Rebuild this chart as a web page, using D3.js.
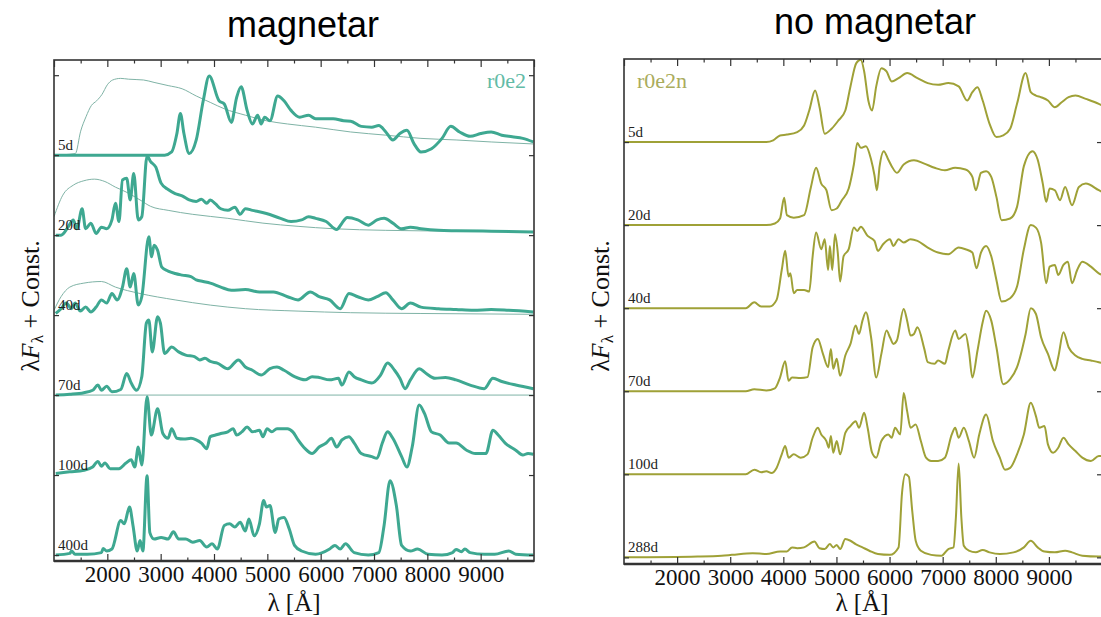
<!DOCTYPE html>
<html>
<head>
<meta charset="utf-8">
<script src="https://cdn.jsdelivr.net/npm/d3@7"></script>
<style>
  body { margin: 0; background: #fff; }
  svg { display: block; }
</style>
</head>
<body>
<div id="chart"></div>
<script>
// spectra: [wavelength (A), normalised flux]
// each epoch is stacked one unit above the next one

const waveTicks = [2000, 3000, 4000, 5000, 6000, 7000, 8000, 9000];
const magEpochs = ["5d", "20d", "40d", "70d", "100d", "400d"];
const noMagEpochs = ["5d", "20d", "40d", "70d", "100d", "288d"];

// --- magnetar (r0e2) ---
const mag5d = [[1000,0],[3074,0],[3206,0.04],[3304,0.27],[3370,0.52],[3436,0.27],[3535,0.02],[3667,0.19],[3798,0.68],[3910,0.99],[4094,0.68],[4193,0.64],[4325,0.41],[4424,0.72],[4509,0.855],[4621,0.56],[4720,0.39],[4819,0.5],[4884,0.39],[4950,0.475],[5049,0.43],[5194,0.74],[5313,0.68],[5444,0.56],[5609,0.475],[5773,0.5],[5905,0.455],[6037,0.455],[6234,0.455],[6432,0.43],[6563,0.425],[6761,0.36],[6958,0.35],[7090,0.37],[7222,0.29],[7353,0.19],[7485,0.27],[7617,0.31],[7749,0.145],[7880,0.04],[8078,0.08],[8275,0.21],[8440,0.36],[8605,0.29],[8802,0.235],[9000,0.27],[9197,0.29],[9395,0.25],[9592,0.23],[9790,0.21],[9987,0.165]];
const mag20d = [[1033,0],[1132,0],[1263,0.1],[1362,0.19],[1428,0.08],[1527,0.33],[1593,0.08],[1691,0.15],[1790,0.02],[1889,0.1],[1988,0.08],[2086,0.19],[2152,0.4],[2218,0.17],[2284,0.69],[2363,0.71],[2429,0.44],[2495,0.77],[2580,0.19],[2646,0.23],[2745,0.99],[2811,0.92],[2909,0.85],[3008,0.65],[3140,0.57],[3271,0.52],[3403,0.49],[3535,0.44],[3667,0.42],[3765,0.45],[3864,0.4],[3930,0.44],[4029,0.39],[4127,0.33],[4259,0.31],[4391,0.35],[4490,0.26],[4588,0.33],[4720,0.31],[4983,0.27],[5247,0.21],[5444,0.17],[5642,0.19],[5773,0.23],[5905,0.21],[6103,0.17],[6300,0.07],[6399,0.15],[6498,0.22],[6695,0.19],[6893,0.125],[7057,0.19],[7189,0.21],[7353,0.15],[7518,0.08],[7683,0.1],[7880,0.08],[8210,0.06],[8539,0.055],[9197,0.05],[9987,0.04]];
const mag40d = [[1033,0.02],[1132,0.08],[1230,0.15],[1329,0.08],[1395,0.15],[1494,0.05],[1593,0.1],[1691,0.04],[1790,0.1],[1889,0.19],[1988,0.15],[2086,0.27],[2185,0.19],[2284,0.35],[2363,0.58],[2429,0.35],[2495,0.52],[2580,0.125],[2646,0.23],[2778,0.98],[2830,0.73],[2876,0.875],[2942,0.81],[3021,0.6],[3140,0.55],[3271,0.52],[3403,0.5],[3568,0.48],[3667,0.44],[3798,0.42],[3930,0.4],[4127,0.35],[4325,0.31],[4588,0.32],[4852,0.29],[5115,0.29],[5378,0.23],[5576,0.19],[5806,0.29],[5971,0.23],[6168,0.19],[6366,0.08],[6530,0.27],[6695,0.23],[6893,0.19],[7057,0.23],[7222,0.28],[7353,0.19],[7518,0.08],[7683,0.15],[7880,0.1],[8210,0.08],[8539,0.07],[8868,0.06],[9197,0.07],[9526,0.06],[9987,0.04]];
const mag70d = [[1033,0],[1296,0.01],[1560,0.03],[1724,0.06],[1823,0.125],[1889,0.06],[1988,0.11],[2086,0.04],[2251,0.07],[2363,0.27],[2448,0.15],[2547,0.06],[2646,0.23],[2732,0.9],[2778,0.94],[2843,0.54],[2942,0.98],[2995,0.9],[3074,0.52],[3206,0.6],[3337,0.54],[3469,0.5],[3634,0.48],[3732,0.44],[3831,0.46],[3930,0.42],[4062,0.4],[4259,0.33],[4457,0.44],[4588,0.35],[4720,0.31],[4884,0.25],[5049,0.33],[5181,0.35],[5313,0.31],[5510,0.23],[5708,0.19],[5839,0.23],[5971,0.22],[6168,0.19],[6333,0.21],[6399,0.125],[6530,0.29],[6629,0.23],[6761,0.19],[6958,0.15],[7123,0.25],[7255,0.4],[7386,0.31],[7485,0.21],[7584,0.08],[7683,0.19],[7847,0.33],[7979,0.27],[8144,0.21],[8341,0.22],[8539,0.19],[8802,0.125],[9066,0.08],[9230,0.21],[9395,0.17],[9658,0.125],[9987,0.08]];
const mag100d = [[1033,0.02],[1296,0.04],[1560,0.06],[1724,0.1],[1823,0.17],[1889,0.11],[1955,0.15],[2053,0.08],[2218,0.08],[2350,0.15],[2448,0.19],[2514,0.1],[2580,0.35],[2646,0.125],[2745,0.98],[2824,0.5],[2942,0.83],[3041,0.52],[3140,0.46],[3206,0.58],[3304,0.46],[3436,0.45],[3568,0.46],[3667,0.44],[3765,0.4],[3864,0.33],[3930,0.48],[4029,0.5],[4127,0.52],[4259,0.54],[4358,0.58],[4424,0.5],[4522,0.54],[4621,0.6],[4720,0.54],[4852,0.56],[4917,0.48],[4996,0.58],[5082,0.54],[5181,0.58],[5280,0.58],[5378,0.58],[5477,0.54],[5576,0.44],[5708,0.33],[5839,0.27],[5971,0.35],[6103,0.4],[6201,0.46],[6300,0.35],[6399,0.44],[6530,0.48],[6629,0.4],[6761,0.27],[6958,0.23],[7057,0.21],[7156,0.4],[7255,0.54],[7353,0.46],[7518,0.23],[7617,0.1],[7716,0.35],[7847,0.875],[7946,0.77],[8078,0.54],[8242,0.5],[8407,0.4],[8539,0.4],[8736,0.31],[8901,0.27],[9099,0.27],[9230,0.56],[9329,0.5],[9460,0.4],[9658,0.31],[9790,0.25],[9888,0.27],[9987,0.26]];
const mag400d = [[1033,0],[1296,0.02],[1329,0.05],[1395,0.01],[1625,0.01],[1889,0.03],[1922,0.08],[1988,0.05],[2086,0.075],[2251,0.43],[2317,0.39],[2416,0.6],[2481,0.37],[2561,0.05],[2613,0.18],[2666,0.05],[2745,0.99],[2797,0.28],[2876,0.2],[3008,0.22],[3140,0.2],[3239,0.29],[3337,0.2],[3469,0.2],[3601,0.16],[3732,0.18],[3864,0.1],[3963,0.14],[4062,0.075],[4193,0.37],[4292,0.39],[4391,0.35],[4490,0.41],[4588,0.3],[4654,0.45],[4753,0.24],[4852,0.39],[4931,0.68],[4983,0.6],[5049,0.62],[5148,0.28],[5214,0.45],[5313,0.47],[5411,0.325],[5510,0.12],[5642,0.05],[5905,0.01],[6168,0.075],[6267,0.12],[6366,0.075],[6465,0.14],[6629,0.03],[6893,0],[7090,0.03],[7189,0.37],[7301,0.93],[7419,0.62],[7518,0.12],[7683,0.05],[7814,0.075],[8012,0.01],[8275,0],[8473,0.03],[8539,0.07],[8638,0.04],[8703,0.075],[8802,0.03],[9066,0.01],[9263,0.01],[9526,0.05],[9658,0.01],[9987,0]];

// thin comparison curves in the magnetar panel
const magRef5d = [[1000,0],[1400,0.02],[1500,0.3],[1600,0.48],[1700,0.62],[1800,0.68],[1900,0.76],[2000,0.88],[2100,0.94],[2250,0.96],[2400,0.95],[2679,0.94],[2876,0.91],[3140,0.87],[3403,0.83],[3667,0.74],[3930,0.66],[4193,0.58],[4588,0.5],[4983,0.43],[5378,0.39],[5905,0.35],[6563,0.29],[7222,0.25],[7880,0.21],[8539,0.19],[9197,0.165],[9987,0.14]];
const magRef20d = [[1000,0.23],[1165,0.5],[1362,0.625],[1560,0.68],[1757,0.7],[1955,0.67],[2152,0.6],[2350,0.54],[2613,0.44],[2811,0.36],[3140,0.31],[3601,0.26],[4259,0.21],[4917,0.15],[5576,0.11],[6234,0.08],[7222,0.06],[8539,0.05],[9987,0.04]];
const magRef40d = [[1000,0.06],[1132,0.23],[1296,0.35],[1560,0.4],[1889,0.42],[2152,0.35],[2613,0.27],[3271,0.19],[3930,0.125],[4588,0.08],[5576,0.05],[6563,0.03],[7880,0.02],[9987,0.01]];
const magRef70d = [[1000,0],[9987,0]];

// --- no magnetar (r0e2n) ---
const nomag5d = [[1000,0],[3680,0],[3809,0.02],[3938,0.08],[4067,0.09],[4261,0.12],[4391,0.2],[4488,0.38],[4598,0.62],[4682,0.42],[4779,0.1],[4908,0.16],[5037,0.26],[5167,0.38],[5264,0.67],[5374,0.95],[5458,0.99],[5522,0.85],[5600,0.5],[5671,0.38],[5749,0.67],[5846,0.89],[5943,0.85],[6040,0.73],[6169,0.77],[6331,0.83],[6525,0.77],[6719,0.71],[6913,0.69],[7107,0.71],[7301,0.67],[7462,0.5],[7559,0.6],[7656,0.66],[7753,0.5],[7883,0.22],[8012,0.06],[8141,0.08],[8271,0.16],[8400,0.46],[8562,0.83],[8659,0.6],[8756,0.56],[8853,0.54],[8982,0.5],[9112,0.42],[9241,0.48],[9371,0.54],[9500,0.56],[9694,0.52],[9940,0.46],[10000,0.44]];
const nomag20d = [[1000,0],[3680,0],[3841,0.02],[3938,0.08],[4016,0.33],[4067,0.12],[4196,0.09],[4391,0.12],[4520,0.46],[4617,0.69],[4714,0.5],[4811,0.42],[4908,0.18],[5005,0.2],[5102,0.3],[5231,0.44],[5328,0.73],[5393,0.99],[5458,0.93],[5555,0.95],[5652,0.79],[5716,0.6],[5762,0.42],[5813,0.71],[5891,0.89],[5975,0.79],[6040,0.71],[6137,0.63],[6266,0.73],[6460,0.78],[6654,0.74],[6848,0.69],[7042,0.66],[7236,0.69],[7430,0.67],[7559,0.58],[7624,0.42],[7721,0.63],[7818,0.65],[7915,0.58],[8012,0.34],[8109,0.06],[8271,0.08],[8400,0.22],[8529,0.71],[8691,0.89],[8788,0.79],[8885,0.5],[8950,0.28],[9015,0.44],[9112,0.42],[9209,0.3],[9306,0.46],[9435,0.24],[9565,0.46],[9694,0.5],[9940,0.42],[10000,0.4]];
const nomag40d = [[1000,0],[3292,0],[3453,0.07],[3582,0.02],[3744,0.02],[3873,0.1],[3970,0.46],[4035,0.69],[4099,0.38],[4132,0.42],[4196,0.18],[4261,0.22],[4391,0.22],[4488,0.2],[4552,0.625],[4617,0.91],[4714,0.71],[4779,0.83],[4843,0.46],[4876,0.75],[4921,0.46],[4973,0.89],[5025,0.67],[5070,0.32],[5134,0.625],[5231,0.71],[5328,0.97],[5393,0.93],[5458,0.98],[5587,0.87],[5716,0.81],[5781,0.69],[5878,0.77],[6007,0.83],[6072,0.75],[6169,0.83],[6266,0.79],[6395,0.83],[6525,0.81],[6719,0.73],[6913,0.67],[7107,0.65],[7301,0.73],[7430,0.71],[7559,0.67],[7637,0.48],[7721,0.67],[7818,0.75],[7915,0.625],[8012,0.34],[8109,0.08],[8271,0.12],[8400,0.26],[8529,0.71],[8659,1],[8756,0.97],[8853,0.79],[8950,0.3],[9015,0.5],[9112,0.52],[9176,0.4],[9274,0.52],[9358,0.56],[9435,0.3],[9532,0.46],[9629,0.56],[9791,0.5],[9940,0.42],[10000,0.4]];
const nomag70d = [[1000,0],[3292,0],[3453,0.025],[3680,0.01],[3841,0.035],[3938,0.165],[4035,0.36],[4099,0.125],[4164,0.165],[4326,0.16],[4455,0.17],[4552,0.53],[4649,0.63],[4746,0.45],[4843,0.29],[4895,0.51],[4940,0.27],[5005,0.39],[5070,0.185],[5167,0.43],[5264,0.57],[5361,0.79],[5425,0.69],[5490,0.85],[5555,0.95],[5652,0.65],[5749,0.165],[5846,0.45],[5943,0.73],[6007,0.65],[6072,0.57],[6137,0.61],[6266,0.99],[6331,0.85],[6395,0.67],[6460,0.69],[6525,0.77],[6654,0.51],[6719,0.35],[6848,0.33],[6913,0.37],[7042,0.33],[7107,0.49],[7236,0.73],[7301,0.63],[7430,0.69],[7494,0.49],[7559,0.165],[7656,0.49],[7753,0.83],[7818,0.97],[7915,0.85],[8012,0.53],[8141,0.085],[8271,0.145],[8400,0.29],[8562,0.69],[8659,1],[8756,0.93],[8853,0.65],[8982,0.45],[9112,0.25],[9176,0.41],[9274,0.71],[9371,0.53],[9500,0.43],[9629,0.39],[9791,0.37],[9940,0.35],[10000,0.34]];
const nomag100d = [[1000,0],[3292,0],[3453,0.056],[3582,0.024],[3680,0.036],[3777,0.016],[3873,0.077],[3970,0.24],[4035,0.34],[4099,0.2],[4196,0.24],[4326,0.2],[4455,0.24],[4552,0.44],[4649,0.56],[4714,0.48],[4811,0.4],[4856,0.32],[4895,0.46],[4940,0.26],[5005,0.4],[5070,0.24],[5167,0.5],[5264,0.58],[5361,0.64],[5425,0.56],[5522,0.74],[5587,0.56],[5671,0.26],[5749,0.2],[5846,0.4],[5975,0.48],[6040,0.44],[6104,0.56],[6201,0.48],[6266,0.98],[6331,0.76],[6395,0.56],[6492,0.6],[6589,0.4],[6686,0.2],[6783,0.16],[6913,0.16],[7042,0.2],[7172,0.48],[7236,0.56],[7301,0.44],[7398,0.56],[7494,0.4],[7592,0.2],[7689,0.48],[7818,0.72],[7947,0.4],[8076,0.2],[8173,0.056],[8271,0.077],[8400,0.24],[8529,0.48],[8659,0.86],[8756,0.7],[8820,0.56],[8917,0.58],[8982,0.36],[9080,0.26],[9176,0.32],[9274,0.44],[9371,0.36],[9500,0.28],[9629,0.2],[9791,0.16],[9940,0.22],[10000,0.22]];
const nomag288d = [[1000,0],[2386,0.01],[2838,0.02],[3032,0.03],[3420,0.05],[3680,0.04],[3938,0.07],[4067,0.07],[4164,0.12],[4261,0.11],[4391,0.12],[4585,0.19],[4682,0.11],[4779,0.1],[4876,0.16],[4940,0.12],[5005,0.15],[5070,0.1],[5167,0.22],[5264,0.2],[5361,0.16],[5490,0.12],[5619,0.08],[5781,0.04],[6007,0.03],[6169,0.12],[6234,0.77],[6298,1],[6363,0.97],[6427,0.56],[6492,0.2],[6589,0.08],[6783,0.03],[6977,0.02],[7107,0.1],[7204,0.12],[7249,0.48],[7301,1.13],[7352,0.48],[7398,0.14],[7494,0.08],[7624,0.06],[7753,0.09],[7883,0.06],[8076,0.04],[8335,0.06],[8529,0.12],[8659,0.2],[8788,0.12],[8917,0.07],[9112,0.06],[9306,0.08],[9435,0.06],[9629,0.02],[9940,0.01],[10000,0.01]];

const magSpectra = [mag5d, mag20d, mag40d, mag70d, mag100d, mag400d];
const magRefs = [magRef5d, magRef20d, magRef40d, magRef70d];
const noMagSpectra = [nomag5d, nomag20d, nomag40d, nomag70d, nomag100d, nomag288d];

const W = 1101, H = 617;
const svg = d3.select("#chart").append("svg")
	.attr("width", W)
	.attr("height", H)
	.style("font-family", "'Liberation Serif', 'Times New Roman', serif");

const panels = [
	{ id: "mag", title: "magnetar", titleX: 303, titleY: 37, model: "r0e2", modelAnchor: "end",
	  xRange: [54, 534], yDomain: [-0.075, 6.19], yRange: [561, 60], yTicks: [0, 1, 2, 3, 4, 5, 6],
	  color: "#3ea891", modelColor: "#62bba6", width: 3, labels: magEpochs, spectra: magSpectra, refs: magRefs, ylabelX: 30 },
	{ id: "nomag", title: "no magnetar", titleX: 875, titleY: 34, model: "r0e2n", modelAnchor: "start",
	  xRange: [624, 1102], yDomain: [-0.08, 6.0], yRange: [564, 59], yTicks: [0, 1, 2, 3, 4, 5],
	  color: "#9fa137", modelColor: "#aaac5c", width: 2, labels: noMagEpochs, spectra: noMagSpectra, refs: [], ylabelX: 600 }
];

const majorTicks = d3.range(1000, 10001, 1000);
const minorTicks = d3.range(1500, 10000, 1000);

panels.forEach(function(p) {
	const x = d3.scaleLinear().domain([1000, 10000]).range(p.xRange);
	const y = d3.scaleLinear().domain(p.yDomain).range(p.yRange);
	const top = p.yRange[1], bottom = p.yRange[0];
	const left = p.xRange[0], right = p.xRange[1];
	const n = p.spectra.length;

	const g = svg.append("g");

	g.append("clipPath").attr("id", "clip-" + p.id)
		.append("rect")
		.attr("x", left).attr("y", top - 10)
		.attr("width", right - left).attr("height", bottom - top + 10);

	const line = function(offset) {
		return d3.line()
			.x(function(d) { return x(d[0]); })
			.y(function(d) { return y(d[1] + offset); })
			.curve(d3.curveMonotoneX);
	};

	const plot = g.append("g").attr("clip-path", "url(#clip-" + p.id + ")");

	// thin comparison curves
	p.refs.forEach(function(ref, i) {
		plot.append("path")
			.datum(ref)
			.attr("fill", "none")
			.attr("stroke", "#7fb3a6")
			.attr("stroke-width", 1)
			.attr("d", line(n - 1 - i));
	});

	p.spectra.forEach(function(s, i) {
		plot.append("path")
			.datum(s)
			.attr("fill", "none")
			.attr("stroke", p.color)
			.attr("stroke-width", p.width)
			.attr("stroke-linejoin", "round")
			.attr("d", line(n - 1 - i));
	});

	// epoch labels
	p.labels.forEach(function(lab, i) {
		g.append("text")
			.attr("x", left + 4)
			.attr("y", y(n - 1 - i) - 5)
			.attr("font-size", 15)
			.attr("fill", "#222")
			.text(lab);
	});

	// frame
	g.append("rect")
		.attr("x", left).attr("y", top)
		.attr("width", right - left).attr("height", bottom - top)
		.attr("fill", "none")
		.attr("stroke", "#333")
		.attr("stroke-width", 1.6);
	g.append("line")
		.attr("x1", left).attr("x2", right)
		.attr("y1", bottom).attr("y2", bottom)
		.attr("stroke", "#333").attr("stroke-width", 2.4);

	// axes, ticks pointing inwards
	const axisStyle = function(sel) {
		sel.select(".domain").remove();
		sel.selectAll(".tick line").attr("stroke", "#333").attr("stroke-width", 1.2);
	};

	g.append("g").attr("transform", "translate(0," + bottom + ")")
		.call(d3.axisBottom(x).tickValues(waveTicks).tickSize(-7).tickPadding(5).tickFormat(d3.format("d")))
		.call(axisStyle)
		.call(function(s) {
			s.selectAll("text").attr("font-size", 23).attr("fill", "#111")
				.style("font-family", "'Liberation Serif', serif");
		});
	g.append("g").attr("transform", "translate(0," + bottom + ")")
		.call(d3.axisBottom(x).tickValues(minorTicks).tickSize(-3.5).tickFormat(""))
		.call(axisStyle);
	g.append("g").attr("transform", "translate(0," + top + ")")
		.call(d3.axisTop(x).tickValues(majorTicks).tickSize(-7).tickFormat(""))
		.call(axisStyle);
	g.append("g").attr("transform", "translate(0," + top + ")")
		.call(d3.axisTop(x).tickValues(minorTicks).tickSize(-3.5).tickFormat(""))
		.call(axisStyle);
	g.append("g").attr("transform", "translate(" + left + ",0)")
		.call(d3.axisLeft(y).tickValues(p.yTicks).tickSize(-5).tickFormat(""))
		.call(axisStyle);
	g.append("g").attr("transform", "translate(" + right + ",0)")
		.call(d3.axisRight(y).tickValues(p.yTicks).tickSize(-5).tickFormat(""))
		.call(axisStyle);

	// axis titles
	const xl = g.append("text")
		.attr("x", (left + Math.min(right, W + 3)) / 2 + (p.id === "nomag" ? -1 : 0))
		.attr("y", 611)
		.attr("text-anchor", "middle")
		.attr("font-size", 25)
		.attr("fill", "#111");
	xl.append("tspan").text("λ [Å]");

	const yl = g.append("text")
		.attr("transform", "translate(" + p.ylabelX + ",306) rotate(-90)")
		.attr("text-anchor", "middle")
		.attr("dy", "0.35em")
		.attr("font-size", 26)
		.attr("fill", "#111");
	yl.append("tspan").text("λ");
	yl.append("tspan").attr("font-style", "italic").text("F");
	yl.append("tspan").attr("font-size", 17).attr("baseline-shift", "-25%").text("λ");
	yl.append("tspan").text(" + Const.");

	// model name
	g.append("text")
		.attr("x", p.modelAnchor === "end" ? right - 8 : left + 13)
		.attr("y", 88)
		.attr("text-anchor", p.modelAnchor)
		.attr("font-size", 22)
		.attr("fill", p.modelColor)
		.text(p.model);

	// panel title
	svg.append("text")
		.attr("x", p.titleX)
		.attr("y", p.titleY)
		.attr("text-anchor", "middle")
		.attr("font-size", 36)
		.style("font-family", "'Liberation Sans', Arial, sans-serif")
		.attr("fill", "#000")
		.text(p.title);
});
</script>
</body>
</html>
